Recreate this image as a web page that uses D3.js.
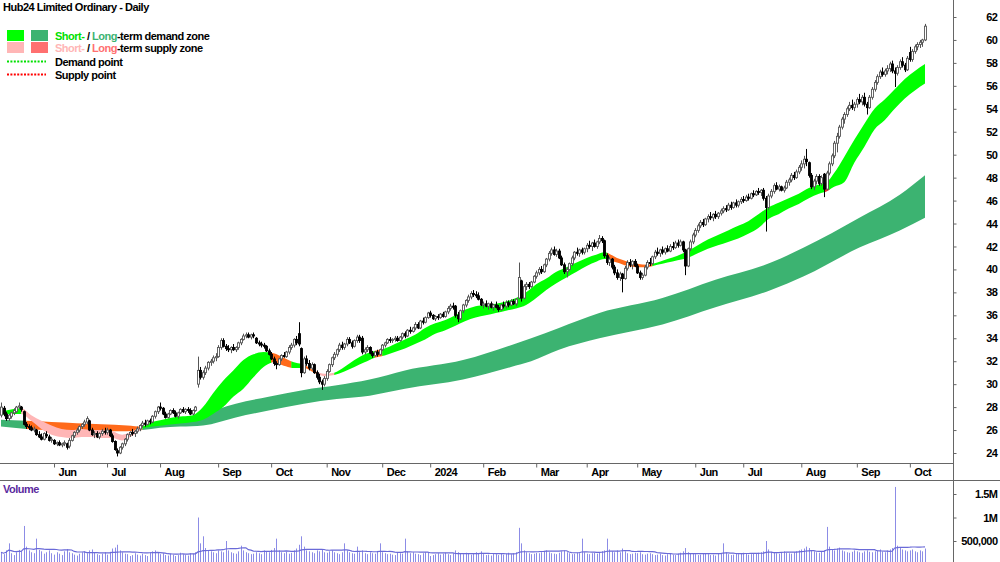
<!DOCTYPE html>
<html lang="en">
<head>
<meta charset="UTF-8">
<title>Hub24 Limited Ordinary - Daily</title>
<script src="https://cdn.jsdelivr.net/npm/d3@7"></script>
<style>
  body { margin: 0; background: #fff; }
  svg { display: block; font-family: "Liberation Sans", Arial, sans-serif; }
  .lbl { font-size: 11px; font-weight: bold; letter-spacing: -0.5px; }
</style>
</head>
<body>
<script>
// daily candles, one small array per month: [open, high, low, close]
const may23 = [[27.3,28.4,27.1,28.0],[27.9,28.1,27.2,27.4],[27.4,27.6,26.8,27.0],[27.0,27.4,26.8,27.3],[27.2,27.6,27.0,27.5],[27.5,27.9,27.3,27.7],[27.6,28.1,27.5,28.0],[28.0,28.4,27.8,28.1],[28.0,28.1,27.6,27.8],[27.6,27.7,26.4,26.5],[26.5,26.7,26.1,26.3],[26.3,26.5,26.0,26.2],[26.2,26.4,25.9,26.0],[26.0,26.3,25.8,26.1],[26.0,26.1,25.5,25.6],[25.6,25.9,25.3,25.4],[25.4,25.7,25.1,25.2],[25.2,25.8,25.1,25.7],[25.6,25.9,25.3,25.5],[25.4,25.6,25.0,25.1],[25.1,25.4,24.9,25.2]];
const jun23 = [[25.1,25.2,24.7,24.8],[24.8,25.0,24.6,24.9],[24.9,25.1,24.6,24.7],[24.7,24.9,24.5,24.8],[24.8,25.1,24.6,24.9],[24.8,24.9,24.3,24.5],[24.6,25.3,24.4,25.1],[25.1,25.6,25.0,25.5],[25.5,25.9,25.3,25.8],[25.8,26.2,25.6,26.0],[26.0,26.4,25.8,26.3],[26.3,26.6,26.1,26.5],[26.5,26.9,26.3,26.7],[26.7,27.2,26.5,27.0],[26.8,26.9,25.9,26.0],[26.0,26.2,25.5,25.6],[25.6,25.9,25.3,25.7],[25.7,25.9,25.3,25.4],[25.4,25.8,25.2,25.7],[25.7,26.1,25.5,25.9],[25.9,26.2,25.6,25.8]];
const jul23 = [[25.8,26.2,25.6,26.0],[26.0,26.1,25.4,25.5],[25.5,25.7,24.9,25.0],[25.0,25.1,24.2,24.3],[24.2,24.4,23.7,24.0],[24.0,24.6,23.9,24.5],[24.5,24.9,24.3,24.8],[24.8,25.3,24.6,25.2],[25.2,25.7,25.0,25.6],[25.6,25.9,25.4,25.8],[25.8,26.1,25.5,25.7],[25.7,26.0,25.4,25.9],[25.9,26.3,25.7,26.1],[26.1,26.5,25.9,26.4],[26.4,26.8,26.2,26.6],[26.6,26.9,26.3,26.5],[26.5,26.9,26.4,26.8],[26.8,27.0,26.5,26.7],[26.7,27.3,26.6,27.2],[27.2,27.7,27.0,27.6],[27.6,28.1,27.4,28.0]];
const aug23 = [[28.0,28.4,27.7,27.9],[27.9,28.0,27.3,27.4],[27.4,27.6,27.0,27.1],[27.1,27.5,27.0,27.4],[27.4,27.8,27.3,27.7],[27.7,27.9,27.4,27.5],[27.5,27.7,27.1,27.2],[27.2,27.6,27.0,27.5],[27.5,27.9,27.4,27.8],[27.8,28.0,27.5,27.6],[27.6,27.9,27.4,27.8],[27.8,28.0,27.5,27.7],[27.7,27.9,27.3,27.4],[27.4,27.8,27.3,27.7],[27.7,28.1,27.6,28.0],[30.0,32.4,29.7,31.2],[31.2,31.5,30.4,30.6],[30.6,31.2,30.4,31.0],[31.0,31.6,30.8,31.4],[31.4,32.0,31.2,31.9],[31.9,32.2,31.6,32.0],[32.0,32.5,31.8,32.3],[32.3,32.7,32.0,32.4]];
const sep23 = [[32.4,33.4,32.3,33.2],[33.2,34.0,33.0,33.8],[33.8,34.0,33.2,33.3],[33.3,33.5,32.9,33.1],[33.1,33.4,32.8,33.0],[33.0,33.3,32.7,33.2],[33.2,33.5,32.9,33.0],[33.0,33.3,32.8,33.2],[33.2,33.7,33.0,33.6],[33.6,34.0,33.4,33.9],[33.9,34.4,33.8,34.2],[34.2,34.5,34.0,34.3],[34.3,34.5,34.0,34.1],[34.1,34.4,33.9,34.3],[34.3,34.5,34.0,34.2],[34.0,34.1,33.5,33.6],[33.6,33.8,33.3,33.5],[33.5,33.7,33.2,33.4],[33.4,33.6,33.1,33.3],[33.3,33.4,32.8,32.9],[32.9,33.1,32.5,32.6]];
const oct23 = [[32.6,32.8,32.1,32.2],[32.2,32.4,31.6,31.8],[31.8,32.0,31.3,31.7],[31.7,32.3,31.6,32.2],[32.2,32.6,32.0,32.5],[32.5,32.8,32.3,32.4],[32.4,32.9,32.3,32.8],[32.8,33.4,32.6,33.2],[33.2,33.6,33.0,33.4],[33.4,34.0,33.2,33.9],[33.9,34.2,33.4,33.6],[34.4,35.4,33.3,33.5],[33.1,33.2,30.6,31.0],[31.0,32.4,30.9,32.2],[32.2,32.5,31.6,31.8],[31.8,32.1,31.2,31.4],[31.4,31.9,31.2,31.7],[31.7,31.8,30.9,31.0],[31.0,31.2,30.4,30.6],[30.6,30.9,30.0,30.2],[30.2,30.4,29.5,30.0],[30.0,30.7,29.8,30.5]];
const nov23 = [[30.5,31.3,30.3,31.1],[31.1,31.8,31.0,31.7],[31.7,32.4,31.5,32.3],[32.3,32.8,32.1,32.6],[32.6,33.1,32.4,33.0],[33.0,33.6,32.8,33.4],[33.4,33.7,33.0,33.2],[33.2,33.6,33.0,33.5],[33.5,34.1,33.3,33.9],[33.9,34.1,33.5,33.6],[33.6,33.8,33.1,33.3],[33.3,33.9,33.2,33.8],[33.8,34.3,33.6,34.1],[34.1,34.3,33.6,33.8],[34.0,34.2,32.6,32.8],[32.8,33.2,32.6,33.0],[33.0,33.4,32.8,33.2],[33.2,33.3,32.6,32.7],[32.7,32.9,32.3,32.5],[32.5,32.9,32.4,32.8],[32.8,33.0,32.4,32.6],[32.6,33.1,32.5,33.0]];
const dec23 = [[33.0,33.5,32.9,33.4],[33.4,33.7,33.2,33.6],[33.6,34.0,33.5,33.9],[33.9,34.1,33.6,33.8],[33.8,34.0,33.6,33.9],[33.9,34.2,33.7,34.0],[34.0,34.2,33.7,33.8],[33.8,34.2,33.7,34.1],[34.1,34.5,33.9,34.4],[34.4,34.6,34.0,34.2],[34.2,34.8,34.1,34.7],[34.7,35.0,34.4,34.6],[34.6,35.0,34.5,34.9],[34.9,35.4,34.7,35.2],[35.2,35.4,34.8,34.9],[34.9,35.6,34.8,35.5],[35.5,35.8,35.2,35.4],[35.4,35.9,35.3,35.8],[35.8,36.3,35.7,36.2]];
const jan24 = [[36.2,36.4,35.8,36.0],[36.0,36.1,35.6,35.7],[35.7,36.0,35.5,35.9],[35.9,36.1,35.6,35.8],[35.8,36.2,35.7,36.1],[36.1,36.3,35.8,35.9],[35.9,36.4,35.8,36.3],[36.3,36.8,36.1,36.6],[36.6,37.0,36.4,36.8],[36.8,37.1,36.5,36.7],[36.8,36.9,35.8,36.0],[36.0,36.3,35.4,35.7],[35.7,36.5,35.6,36.4],[36.4,37.0,36.2,36.9],[36.9,37.4,36.7,37.3],[37.3,37.8,37.1,37.6],[37.6,38.1,37.4,37.9],[37.9,38.2,37.6,37.8],[37.8,38.1,37.5,37.7],[37.7,38.0,37.3,37.4],[37.4,37.5,36.8,36.9]];
const feb24 = [[36.9,37.2,36.6,37.0],[37.0,37.3,36.7,36.8],[36.8,37.1,36.5,37.0],[37.0,37.2,36.6,36.7],[36.7,37.0,36.4,36.9],[36.9,37.2,36.6,36.7],[36.7,36.9,36.3,36.5],[36.5,37.0,36.4,36.9],[36.9,37.2,36.6,36.8],[36.8,37.3,36.6,37.1],[37.1,37.3,36.7,36.9],[36.9,37.4,36.8,37.2],[37.2,37.4,36.9,37.0],[37.0,37.5,36.8,37.4],[37.5,40.6,37.4,39.3],[39.0,39.1,37.2,37.5],[37.5,38.7,37.4,38.5],[38.5,38.9,38.2,38.7],[38.7,38.9,38.3,38.5],[38.5,39.0,38.4,38.9],[38.9,39.5,38.8,39.4]];
const mar24 = [[39.4,39.9,39.2,39.7],[39.7,40.2,39.5,40.0],[40.0,40.3,39.6,39.8],[39.8,40.5,39.7,40.4],[40.4,41.0,40.2,40.9],[40.9,41.6,40.7,41.4],[41.4,41.9,41.2,41.7],[41.7,42.0,41.2,41.3],[41.3,41.8,41.1,41.6],[41.6,41.8,40.9,41.0],[41.0,41.2,40.3,40.4],[40.4,40.6,39.6,39.8],[39.8,40.2,39.3,40.0],[40.0,40.6,39.9,40.5],[40.5,41.2,40.3,41.0],[41.0,41.6,40.8,41.5],[41.5,41.9,41.2,41.4],[41.4,41.8,41.1,41.7],[41.7,41.9,41.3,41.5],[41.5,41.9,41.3,41.8]];
const apr24 = [[41.8,42.3,41.5,42.1],[42.1,42.5,41.8,42.0],[42.0,42.4,41.6,42.3],[42.3,42.6,41.9,42.0],[42.0,42.5,41.8,42.4],[42.4,43.0,42.2,42.7],[42.7,42.9,42.3,42.5],[42.5,42.6,41.0,41.2],[41.2,41.4,40.4,40.6],[40.6,41.1,40.3,40.9],[40.9,41.0,40.0,40.2],[40.2,40.4,39.5,39.7],[39.7,40.0,39.1,39.3],[39.3,39.8,39.0,39.6],[39.6,39.7,38.0,39.2],[39.2,40.3,39.1,40.1],[40.1,40.8,39.9,40.6],[40.6,40.9,40.2,40.4],[40.4,40.8,40.0,40.7],[40.7,40.9,40.2,40.3]];
const may24 = [[40.3,40.5,39.6,39.7],[39.7,39.9,39.1,39.3],[39.3,39.7,39.1,39.5],[39.5,40.4,39.4,40.2],[40.2,40.8,40.0,40.6],[40.6,41.0,40.3,40.5],[40.5,41.2,40.4,41.1],[41.1,41.7,40.9,41.5],[41.5,41.9,41.2,41.4],[41.4,41.8,41.1,41.7],[41.7,42.0,41.3,41.5],[41.5,41.9,41.3,41.8],[41.8,42.1,41.5,41.6],[41.6,42.2,41.5,42.0],[42.0,42.4,41.7,41.9],[41.9,42.5,41.8,42.3],[42.3,42.6,41.9,42.1],[42.1,42.6,42.0,42.4],[42.4,42.5,41.5,41.7],[41.7,41.8,39.5,40.3],[40.3,41.9,40.2,41.8],[41.8,42.6,41.6,42.4],[42.4,43.2,42.2,43.0]];
const jun24 = [[43.0,43.6,42.8,43.4],[43.4,44.0,43.2,43.8],[43.8,44.3,43.6,44.1],[44.1,44.4,43.7,43.9],[43.9,44.5,43.8,44.4],[44.4,44.8,44.1,44.6],[44.6,45.0,44.3,44.5],[44.5,44.9,44.2,44.8],[44.8,45.1,44.4,44.6],[44.6,45.0,44.4,44.9],[44.9,45.3,44.7,45.1],[45.1,45.5,44.9,45.3],[45.3,45.6,45.0,45.2],[45.2,45.8,45.1,45.6],[45.6,45.9,45.2,45.4],[45.4,45.9,45.3,45.8],[45.8,46.1,45.4,45.6],[45.6,46.0,45.4,45.9],[45.9,46.3,45.7,46.1]];
const jul24 = [[46.1,46.4,45.8,46.0],[46.0,46.5,45.9,46.3],[46.3,46.6,46.0,46.2],[46.2,46.7,46.1,46.6],[46.6,46.9,46.3,46.5],[46.5,46.9,46.4,46.8],[46.8,47.1,46.5,46.7],[46.7,47.0,46.4,46.9],[46.9,47.1,46.0,46.2],[46.2,46.4,43.3,45.4],[45.4,46.6,45.2,46.4],[46.4,47.0,46.2,46.8],[46.8,47.5,46.6,47.3],[47.3,47.6,46.9,47.0],[47.0,47.4,46.8,47.2],[47.2,47.3,46.8,46.9],[46.9,47.3,46.7,47.1],[47.1,47.8,47.0,47.6],[47.6,48.0,47.3,47.8],[47.8,48.4,47.6,48.2],[48.2,48.5,47.8,48.0],[48.0,48.7,47.9,48.5],[48.5,49.1,48.3,48.9]];
const aug24 = [[48.9,49.5,48.6,49.2],[49.2,49.9,48.8,49.6],[49.6,50.5,49.0,49.4],[49.3,49.4,48.0,48.2],[48.2,48.4,47.0,47.2],[47.2,47.9,46.9,47.7],[47.7,48.3,47.4,48.1],[48.1,48.3,47.3,47.5],[47.5,48.2,47.3,48.0],[48.3,48.4,46.3,47.0],[47.0,48.6,46.9,48.4],[48.4,49.4,48.2,49.2],[49.2,50.1,49.0,49.9],[49.9,51.2,49.7,51.0],[51.0,51.9,50.2,51.6],[51.6,52.6,51.4,52.4],[52.4,53.3,52.2,53.1],[53.1,53.7,52.7,53.5],[53.5,54.2,53.3,54.0],[54.0,54.6,53.8,54.3],[54.3,54.8,53.9,54.1],[54.1,54.6,53.8,54.4]];
const sep24 = [[54.4,55.0,54.1,54.8],[54.8,55.3,54.4,54.6],[54.6,55.2,54.3,55.0],[55.0,55.4,54.2,54.4],[54.4,54.6,53.5,54.1],[54.1,55.2,54.0,55.0],[55.0,55.9,54.8,55.7],[55.7,56.5,55.5,56.3],[56.3,57.0,56.1,56.8],[56.8,57.4,56.6,57.2],[57.2,57.6,56.8,57.0],[57.0,57.5,56.8,57.3],[57.3,57.8,57.0,57.5],[57.5,58.1,57.2,57.9],[57.9,58.2,57.1,57.3],[57.3,57.6,55.9,57.1],[57.1,57.8,56.9,57.6],[57.6,58.3,57.4,58.1],[58.1,58.5,57.6,57.8],[57.8,58.0,57.2,57.4],[57.4,58.6,57.3,58.4]];
const oct24 = [[58.9,59.4,58.1,58.3],[58.3,59.2,58.1,59.0],[59.0,59.6,58.8,59.4],[59.4,59.8,59.1,59.6],[59.6,60.0,59.3,59.8],[59.8,60.1,59.4,60.0],[60.0,61.4,59.9,61.2]];

// daily volume, thousands of shares
const volumeK = [
  260,220,300,450,240,200,260,310,280,820,380,300,260,240,550,310,280,230,260,300,
  240,210,260,230,200,280,330,260,240,210,190,230,260,280,240,300,320,250,220,200,
  230,260,210,270,340,360,420,300,260,230,220,180,200,240,210,190,230,200,180,260,
  280,300,260,220,240,200,190,230,210,180,200,250,220,200,190,240,230,260,1000,450,
  600,350,300,280,260,240,300,280,260,500,300,260,240,230,280,400,300,260,240,220,
  230,260,240,220,300,280,260,310,350,550,300,260,240,270,230,250,300,340,420,600,
  380,300,280,260,240,300,280,320,260,250,280,300,260,240,220,260,450,300,260,240,
  230,380,260,300,240,220,260,240,230,280,450,260,240,220,230,210,200,250,240,230,
  550,280,240,260,230,220,200,240,260,250,180,200,220,240,210,230,250,220,200,240,
  300,260,240,220,250,230,210,240,260,230,280,220,200,210,190,230,220,200,240,210,
  230,250,220,240,260,780,450,300,260,240,220,230,250,240,260,280,300,260,240,230,
  220,250,280,300,260,240,220,230,250,240,550,260,230,220,240,250,230,260,280,300,
  550,320,280,260,300,260,340,280,240,220,230,250,240,260,220,210,230,240,220,200,
  210,230,200,190,220,240,210,200,230,250,280,350,260,240,230,220,200,210,230,240,
  220,200,210,190,230,240,450,260,220,200,210,230,220,240,250,230,210,220,240,230,
  250,260,280,500,320,270,250,240,230,260,280,250,240,230,260,280,300,320,340,380,
  350,300,280,260,250,270,300,800,380,320,300,340,360,300,280,260,250,270,300,280,
  260,250,280,300,270,260,280,300,320,280,260,300,320,350,1650,400,350,320,300,280,
  300,320,280,260,300,280,340
];

// short-term zone edges (read at these bar numbers)
const shortAt  = [0,4,8,12,16,20,24,28,32,36,40,44,48,52,56,60,64,68,72,76,80,84,88,92,96,100,104,108,112,116,120,124,128,132,136,140,144,148,152,156,160,164,168,172,176,180,184,188,192,196,200,204,208,212,216,220,224,228,232,236,239,244,248,252,256,260,264,268,272,276,280,284,288,292,296,300,304,308,312,316,320,324,327,330,334,338,342,346,350,354,358,362,366];
const shortTop = [27.6,27.8,27.9,27.3,26.8,26.4,26.1,26.0,26.1,26.0,26.0,25.9,25.6,25.9,26.3,26.7,26.9,27.1,27.2,27.3,28.0,29.2,30.3,31.2,32.1,32.6,32.8,32.7,32.3,31.9,31.7,31.2,30.9,31.0,31.5,32.1,32.6,32.9,33.1,33.5,33.9,34.3,34.9,35.3,35.6,36.0,36.5,36.8,36.9,37.0,37.2,37.5,38.0,38.7,39.2,39.8,40.2,40.6,41.0,41.3,41.5,41.0,40.7,40.5,40.4,40.6,40.9,41.2,41.6,42.1,42.6,43.0,43.4,43.8,44.2,44.8,45.4,45.8,46.2,46.6,47.1,47.4,47.6,48.4,49.8,51.3,52.7,54.0,54.8,55.7,56.6,57.3,57.9];
const shortBot = [27.3,27.4,27.4,26.8,26.1,25.6,25.4,25.3,25.4,25.4,25.3,25.3,25.1,25.5,26.1,26.3,26.4,26.5,26.6,26.7,26.9,27.4,28.0,28.9,29.6,30.6,31.5,31.9,31.6,31.4,31.4,31.0,30.7,30.8,31.1,31.5,31.9,32.3,32.5,32.8,33.1,33.5,33.9,34.4,34.7,35.1,35.5,35.8,36.0,36.2,36.4,36.6,36.9,37.5,38.2,38.8,39.3,39.8,40.3,40.7,40.9,40.6,40.3,40.2,40.2,40.4,40.6,40.8,41.0,41.4,41.8,42.1,42.4,42.7,43.1,43.6,44.4,44.8,45.3,45.7,46.2,46.6,46.8,47.2,47.6,49.3,50.7,52.2,53.0,54.0,54.9,55.6,56.2];
// long-term zone edges
const longAt  = [0,10,20,30,40,50,56,63,71,80,93,106,120,133,146,160,183,202,210,221,237,262,283,305,318,340,356,366];
const longTop = [26.9,26.8,26.7,26.6,26.5,26.4,26.3,26.5,26.8,27.4,28.3,28.9,29.5,29.9,30.4,31.2,32.1,33.4,34.0,34.9,36.2,37.5,39.1,40.6,41.9,44.5,46.5,48.2];
const longBot = [26.3,26.1,26.0,26.0,25.9,25.9,26.0,26.2,26.3,26.4,27.1,27.7,28.3,28.7,29.0,29.6,30.4,31.5,32.0,33.0,34.0,35.2,36.7,38.2,39.4,41.9,43.4,44.5];

// zone colouring by bar range
const shortZones = [[0,8,"sd"],[8,56,"ss"],[56,107,"sd"],[107,115,"or"],[115,119,"sd"],[119,125,"or"],[125,132,"ss"],[132,148,"sd"],[148,151,"or"],[151,240,"sd"],[240,258,"or"],[258,326,"sd"],[326,328,"rd"],[328,366,"sd"]];
const longZones = [[0,10,"ld"],[10,56,"or"],[56,366,"ld"]];

const priceTicks = d3.range(24, 63, 2);
const volTicks = [500000, 1000000, 1500000];
const holidays = ["2023-06-12","2023-12-25","2023-12-26","2024-01-01","2024-01-26","2024-03-29","2024-04-01","2024-04-25","2024-06-10"];

const colors = { sd: "#00ff00", ld: "#3cb371", ss: "#ffb6b6", ls: "#ff7070", or: "#ff6a1a", rd: "#e03030" };

const candles = [].concat(may23, jun23, jul23, aug23, sep23, oct23, nov23, dec23, jan24, feb24, mar24, apr24, may24, jun24, jul24, aug24, sep24, oct24);
const N = candles.length;

// trading days
const fmt = d3.timeFormat("%Y-%m-%d");
const days = [];
for (let d = new Date(2023, 4, 3); days.length < N; d = d3.timeDay.offset(d, 1)) {
  const wd = d.getDay();
  if (wd === 0 || wd === 6 || holidays.includes(fmt(d))) continue;
  days.push(new Date(d));
}

const W = 1000, H = 562, axisX = 953;
const x = d3.scaleLinear().domain([0, N - 1]).range([1, 925]);
const y = d3.scaleLinear().domain([24, 62]).range([453, 17]);
const yv = d3.scaleLinear().domain([0, 1500000]).range([564.5, 494]);

const svg = d3.select("body").append("svg").attr("width", W).attr("height", H);
const defs = svg.append("defs");

// zones
function drawZone(at, top, bot, zones, key) {
  const pts = at.map((a, k) => ({ i: a, t: top[k], b: bot[k] }));
  const area = d3.area().curve(d3.curveMonotoneX)
    .x(d => x(d.i)).y0(d => y(d.b)).y1(d => y(d.t));
  const g = svg.append("g");
  zones.forEach(([a, b, c], k) => {
    const id = key + k;
    defs.append("clipPath").attr("id", id).append("rect")
      .attr("x", x(a)).attr("y", 0).attr("width", x(b) - x(a) + (b === N - 1 ? 1 : 0.3)).attr("height", 470);
    g.append("path").attr("d", area(pts)).attr("fill", colors[c]).attr("clip-path", `url(#${id})`);
  });
}
drawZone(longAt, longTop, longBot, longZones, "lz");
drawZone(shortAt, shortTop, shortBot, shortZones, "sz");

// candles
const cg = svg.append("g");
candles.forEach(([o, h, l, c], i) => {
  const up = c >= o;
  const cx = Math.round(x(i)) + 0.5;
  cg.append("line").attr("x1", cx).attr("x2", cx).attr("y1", y(h)).attr("y2", y(l))
    .attr("stroke", up ? "#555" : "#000").attr("stroke-width", 1);
  const top = y(Math.max(o, c)), bot = y(Math.min(o, c));
  cg.append("rect").attr("x", cx - 1).attr("y", top).attr("width", 2).attr("height", Math.max(1, bot - top))
    .attr("fill", up ? "#fff" : "#000").attr("stroke", up ? "#555" : "#000").attr("stroke-width", 0.9);
});

// volume
const vg = svg.append("g");
volumeK.forEach((v, i) => {
  const cx = Math.round(x(i)) + 0.5;
  vg.append("line").attr("x1", cx).attr("x2", cx).attr("y1", H).attr("y2", yv(v * 1000))
    .attr("stroke", "#8c8ce6").attr("stroke-width", 1);
});
const volAvg = volumeK.map((v, i) => d3.mean(volumeK.slice(Math.max(0, i - 19), i + 1)) * 1000);
vg.append("path").attr("d", d3.line().x((d, i) => x(i)).y(d => yv(d))(volAvg))
  .attr("fill", "none").attr("stroke", "#6a6ad8").attr("stroke-width", 1.2);

// frame lines
svg.append("line").attr("x1", 0).attr("x2", axisX).attr("y1", 463.5).attr("y2", 463.5).attr("stroke", "#666");
svg.append("line").attr("x1", 0).attr("x2", W).attr("y1", 480.5).attr("y2", 480.5).attr("stroke", "#666");
svg.append("line").attr("x1", axisX + 0.5).attr("x2", axisX + 0.5).attr("y1", 0).attr("y2", H).attr("stroke", "#666");

// price axis
const pa = svg.append("g").attr("transform", `translate(${axisX + 0.5},0)`)
  .call(d3.axisRight(y).tickValues(priceTicks).tickSize(3).tickFormat(d3.format("d")));
pa.select(".domain").remove();
pa.selectAll("line").attr("stroke", "#666");
pa.selectAll("text").attr("class", "lbl").attr("x", 44).attr("text-anchor", "end").attr("fill", "#000");

// volume axis
const va = svg.append("g").attr("transform", `translate(${axisX + 0.5},0)`)
  .call(d3.axisRight(yv).tickValues(volTicks).tickSize(3)
    .tickFormat(v => v === 500000 ? "500,000" : (v / 1e6) + "M"));
va.select(".domain").remove();
va.selectAll("line").attr("stroke", "#666");
va.selectAll("text").attr("class", "lbl").attr("x", 44).attr("text-anchor", "end").attr("fill", "#000");

// month axis
const monthIdx = days.map((d, i) => i).filter(i => i > 0 && days[i].getMonth() !== days[i - 1].getMonth());
const ma = svg.append("g").attr("transform", "translate(0,463.5)")
  .call(d3.axisBottom(x).tickValues(monthIdx).tickSize(4)
    .tickFormat(i => days[i].getMonth() === 0 ? d3.timeFormat("%Y")(days[i]) : d3.timeFormat("%b")(days[i])));
ma.select(".domain").remove();
ma.selectAll("line").attr("stroke", "#666");
ma.selectAll("text").attr("class", "lbl").attr("x", 4).attr("y", 5).attr("text-anchor", "start").attr("fill", "#000");

// title & legend
svg.append("text").attr("class", "lbl").attr("x", 3).attr("y", 11).text("Hub24 Limited Ordinary - Daily");
[["sd", "ld", 30], ["ss", "ls", 42]].forEach(([a, b, yy]) => {
  svg.append("rect").attr("x", 7).attr("y", yy).attr("width", 17).attr("height", 11).attr("fill", colors[a]);
  svg.append("rect").attr("x", 31).attr("y", yy).attr("width", 17).attr("height", 11).attr("fill", colors[b]);
});
const l1 = svg.append("text").attr("class", "lbl").attr("x", 55).attr("y", 40);
l1.append("tspan").attr("fill", "#00e000").text("Short-");
l1.append("tspan").text(" / ");
l1.append("tspan").attr("fill", colors.ld).text("Long");
l1.append("tspan").text("-term demand zone");
const l2 = svg.append("text").attr("class", "lbl").attr("x", 55).attr("y", 52);
l2.append("tspan").attr("fill", colors.ss).text("Short-");
l2.append("tspan").text(" / ");
l2.append("tspan").attr("fill", colors.ls).text("Long");
l2.append("tspan").text("-term supply zone");
[["#00e000", 61.5, "Demand point"], ["#ff0000", 74.5, "Supply point"]].forEach(([c, yy, t]) => {
  svg.append("line").attr("x1", 7).attr("x2", 46).attr("y1", yy).attr("y2", yy)
    .attr("stroke", c).attr("stroke-width", 2).attr("stroke-dasharray", "2,1.4");
  svg.append("text").attr("class", "lbl").attr("x", 55).attr("y", yy + 4).text(t);
});
svg.append("text").attr("class", "lbl").attr("x", 3).attr("y", 493).attr("fill", "#5b2a9e").text("Volume");
</script>
</body>
</html>
